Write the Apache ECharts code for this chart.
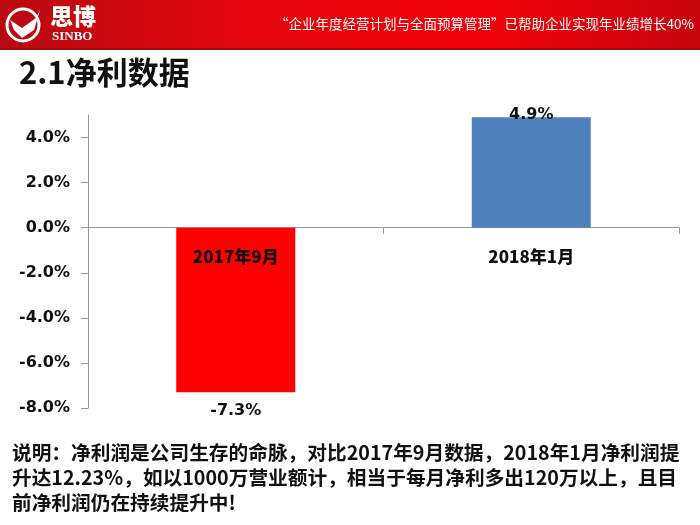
<!DOCTYPE html>
<html>
<head>
<meta charset="utf-8">
<script src="https://cdn.jsdelivr.net/npm/echarts@6/dist/echarts.min.js"></script>
<style>
  html, body { margin: 0; padding: 0; background: #fff; }
  #main { width: 700px; height: 525px; }
</style>
</head>
<body>
<div id="main"></div>
<script>
// 数据
var categories = ['2017年9月', '2018年1月']
var netProfit = [-7.3, 4.9]
var barColors = ['#ff0000', '#4f81bd']
var yTicks = [-8, -6, -4, -2, 0, 2, 4]

var slogan = '“企业年度经营计划与全面预算管理”已帮助企业实现年业绩增长40%'
var note = '说明：净利润是公司生存的命脉，对比2017年9月数据，2018年1月净利润提\n' +
  '升达12.23%，如以1000万营业额计，相当于每月净利多出120万以上，且目\n' +
  '前净利润仍在持续提升中!'

var cjk = '"Noto Sans CJK SC", "Noto Sans", sans-serif'

var myChart = echarts.init(document.getElementById('main'))
var option = {
  backgroundColor: '#fff',
  animation: false,
  grid: {
    left: 88,
    right: 21,
    top: 115,
    bottom: 117
  },
  xAxis: {
    type: 'category',
    data: categories,
    axisLine: { onZero: true, lineStyle: { color: '#9a9a9a', width: 1 } },
    axisTick: { show: true, length: 6, lineStyle: { color: '#9a9a9a' } },
    axisLabel: { show: false }
  },
  yAxis: {
    type: 'value',
    min: -8,
    max: 5,
    interval: 2,
    splitLine: { show: false },
    axisLine: { show: true, lineStyle: { color: '#9a9a9a', width: 1 } },
    axisTick: { show: true, length: 7, customValues: yTicks, lineStyle: { color: '#9a9a9a' } },
    axisLabel: {
      customValues: yTicks,
      margin: 18,
      color: '#111',
      fontSize: 16,
      fontWeight: 'bold',
      fontFamily: '"DejaVu Sans", sans-serif',
      formatter: function (v) { return v.toFixed(1) + '%' }
    }
  },
  series: [
    {
      type: 'bar',
      barWidth: 119,
      data: netProfit.map(function (v, i) {
        return {
          value: v,
          itemStyle: { color: barColors[i] },
          label: {
            position: v < 0 ? 'bottom' : 'top',
            distance: v < 0 ? 11 : -6
          }
        }
      }),
      label: {
        show: true,
        color: '#111',
        fontSize: 16,
        fontWeight: 'bold',
        fontFamily: '"DejaVu Sans", sans-serif',
        formatter: function (p) { return p.value.toFixed(1) + '%' }
      },
      z: 2
    },
    {
      // 类目标签，贴在零线下方
      type: 'scatter',
      symbolSize: 0,
      silent: true,
      itemStyle: { opacity: 1 },
      data: categories.map(function (c) { return [c, 0] }),
      label: {
        show: true,
        position: 'bottom',
        distance: 20,
        color: '#111',
        opacity: 1,
        fontSize: 17,
        fontWeight: 900,
        fontFamily: cjk,
        formatter: function (p) { return p.value[0] }
      },
      z: 5
    }
  ],
  graphic: [
    // 顶部红色横幅
    {
      type: 'rect',
      shape: { x: 0, y: 0, width: 700, height: 48 },
      style: {
        fill: new echarts.graphic.LinearGradient(0, 0, 1, 0, [
          { offset: 0, color: '#b80a12' },
          { offset: 0.35, color: '#e4050d' },
          { offset: 0.7, color: '#f00008' },
          { offset: 1, color: '#c8060e' }
        ])
      },
      z: 10
    },
    {
      type: 'rect',
      shape: { x: 0, y: 48, width: 700, height: 2 },
      style: { fill: '#9c0a10' },
      z: 10
    },
    // logo
    {
      type: 'circle',
      shape: { cx: 23, cy: 25, r: 16 },
      style: { fill: 'none', stroke: '#fff', lineWidth: 3 },
      z: 11
    },
    {
      type: 'polygon',
      shape: { points: [[10, 20], [22, 28], [36, 18], [40, 10], [34, 30], [22, 38], [14, 30]] },
      style: { fill: '#fff' },
      z: 11
    },
    {
      type: 'text',
      left: 50,
      top: 5,
      style: { text: '思博', fill: '#fff', font: '900 23px ' + cjk },
      z: 11
    },
    {
      type: 'text',
      left: 52,
      top: 30,
      style: { text: 'SINBO', fill: '#fff', font: 'bold 13px "Liberation Serif", serif' },
      z: 11
    },
    {
      type: 'text',
      right: 6,
      top: 17,
      style: { text: slogan, fill: '#fff', font: '13.5px ' + cjk },
      z: 11
    },
    // 标题
    {
      type: 'text',
      left: 19,
      top: 57,
      style: { text: '2.1净利数据', fill: '#111', font: 'bold 31px ' + cjk }
    },
    // 说明
    {
      type: 'text',
      left: 12,
      top: 440,
      style: {
        text: note,
        fill: '#111',
        font: 'bold 19.7px ' + cjk,
        lineHeight: 25
      }
    }
  ]
}
myChart.setOption(option)
</script>
</body>
</html>
